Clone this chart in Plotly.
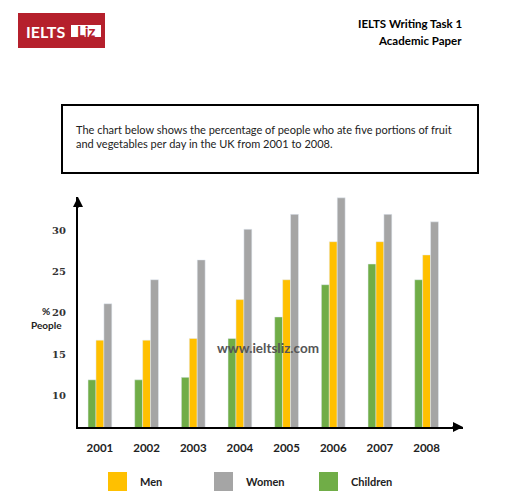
import plotly.graph_objects as go

years = ["2001", "2002", "2003", "2004", "2005", "2006", "2007", "2008"]
children = [11.9, 11.9, 12.2, 16.9, 19.5, 23.4, 25.9, 24.0]
men = [16.7, 16.7, 16.9, 21.6, 24.0, 28.6, 28.6, 27.0]
women = [21.1, 24.0, 26.4, 30.1, 31.9, 33.9, 31.9, 31.0]
y_ticks = [10, 15, 20, 25, 30]

C_CHILD = "#70AD47"
C_MEN = "#FFC000"
C_WOMEN = "#A5A5A5"

W, H = 512, 498
L, R, T, B = 78, 463, 197, 427


def px(x):
    return (x - L) / (R - L)


def py(y):
    return (B - y) / (B - T)


fig = go.Figure()
fig.add_trace(go.Bar(x=years, y=children, name="Children", marker_color=C_CHILD, showlegend=False))
fig.add_trace(go.Bar(x=years, y=men, name="Men", marker_color=C_MEN, showlegend=False))
fig.add_trace(go.Bar(x=years, y=women, name="Women", marker_color=C_WOMEN, showlegend=False))

shapes = []
annotations = []

# Logo
shapes.append(dict(type="rect", xref="paper", yref="paper", x0=px(18), x1=px(105), y0=py(48), y1=py(13),
                   fillcolor="#B5202C", line=dict(width=0), layer="above"))
shapes.append(dict(type="rect", xref="paper", yref="paper", x0=px(71), x1=px(101), y0=py(37), y1=py(25),
                   fillcolor="white", line=dict(width=0), layer="above"))
annotations.append(dict(text="<b>IELTS</b>", xref="paper", yref="paper", x=px(45), y=py(31),
                        showarrow=False, font=dict(family="Lato", size=16, color="white"),
                        xanchor="center", yanchor="middle"))
annotations.append(dict(text="<b>Liz</b>", xref="paper", yref="paper", x=px(86), y=py(31),
                        showarrow=False, font=dict(family="Lato", size=15, color="#B5202C"),
                        xanchor="center", yanchor="middle"))

# Header text
annotations.append(dict(text="<b>IELTS Writing Task 1</b>", xref="paper", yref="paper", x=px(464), y=py(24),
                        showarrow=False, font=dict(family="Lato", size=11.5, color="black"),
                        xanchor="right", yanchor="middle"))
annotations.append(dict(text="<b>Academic Paper</b>", xref="paper", yref="paper", x=px(464), y=py(40),
                        showarrow=False, font=dict(family="Lato", size=11.5, color="black"),
                        xanchor="right", yanchor="middle"))

# Description box
shapes.append(dict(type="rect", xref="paper", yref="paper", x0=px(63), x1=px(479), y0=py(174), y1=py(106),
                   fillcolor="#333333", line=dict(width=0), layer="above"))
shapes.append(dict(type="rect", xref="paper", yref="paper", x0=px(62), x1=px(478), y0=py(173), y1=py(105),
                   fillcolor="white", line=dict(width=2, color="black"), layer="above"))
annotations.append(dict(text="The chart below shows the percentage of people who ate five portions of fruit",
                        xref="paper", yref="paper", x=px(74), y=py(129), showarrow=False,
                        font=dict(family="Lato", size=11, color="#222"), xanchor="left", yanchor="middle"))
annotations.append(dict(text="and vegetables per day in the UK from 2001 to 2008.",
                        xref="paper", yref="paper", x=px(74), y=py(143), showarrow=False,
                        font=dict(family="Lato", size=11, color="#222"), xanchor="left", yanchor="middle"))

# Axis arrowheads
annotations.append(dict(x=0, y=1.0, xref="paper", yref="paper", ax=0, ay=12, axref="pixel", ayref="pixel",
                        showarrow=True, arrowhead=2, arrowsize=1, arrowwidth=2, arrowcolor="black", text=""))
annotations.append(dict(x=1.0, y=0, xref="paper", yref="paper", ax=-12, ay=0, axref="pixel", ayref="pixel",
                        showarrow=True, arrowhead=2, arrowsize=1, arrowwidth=2, arrowcolor="black", text=""))

# Y axis title
annotations.append(dict(text="<b>%</b>", xref="paper", yref="paper", x=px(46), y=py(311), showarrow=False,
                        font=dict(family="Lato", size=10, color="#222"), xanchor="center", yanchor="middle"))
annotations.append(dict(text="<b>People</b>", xref="paper", yref="paper", x=px(46), y=py(325), showarrow=False,
                        font=dict(family="Lato", size=10, color="#222"), xanchor="center", yanchor="middle"))

# Watermark
annotations.append(dict(text="<b>www.ieltsliz.com</b>", xref="paper", yref="paper", x=px(268), y=py(348),
                        showarrow=False, font=dict(family="Lato", size=13.5, color="#555555"),
                        xanchor="center", yanchor="middle"))

# Legend
legend_items = [("Men", C_MEN, 108), ("Women", C_WOMEN, 214), ("Children", C_CHILD, 319)]
for name, col, x0 in legend_items:
    shapes.append(dict(type="rect", xref="paper", yref="paper", x0=px(x0), x1=px(x0 + 19), y0=py(491), y1=py(472),
                       fillcolor=col, line=dict(width=0)))
    annotations.append(dict(text="<b>" + name + "</b>", xref="paper", yref="paper", x=px(x0 + 30), y=py(481),
                            showarrow=False, font=dict(family="Lato", size=11, color="#222"),
                            xanchor="left", yanchor="middle"))

fig.update_layout(
    width=W, height=H,
    margin=dict(l=L, r=W - R, t=T, b=H - B),
    paper_bgcolor="white", plot_bgcolor="white",
    barmode="group", bargap=0.49, bargroupgap=0,
    shapes=shapes, annotations=annotations,
    showlegend=False,
    xaxis=dict(type="category", range=[-0.47, 7.78], showgrid=False, zeroline=False,
               showline=True, linewidth=2, linecolor="black",
               ticks="outside", ticklen=9, tickcolor="rgba(0,0,0,0)",
               tickfont=dict(family="Lato", size=11.5, color="#222", weight="bold")),
    yaxis=dict(range=[6.2, 34], tickvals=y_ticks, showgrid=False, zeroline=False,
               showline=True, linewidth=2, linecolor="black",
               ticks="outside", ticklen=8, tickcolor="rgba(0,0,0,0)",
               tickfont=dict(family="DejaVu Serif", size=10,
                             color="#333", weight="bold")),
)

fig.write_html("out.html")
